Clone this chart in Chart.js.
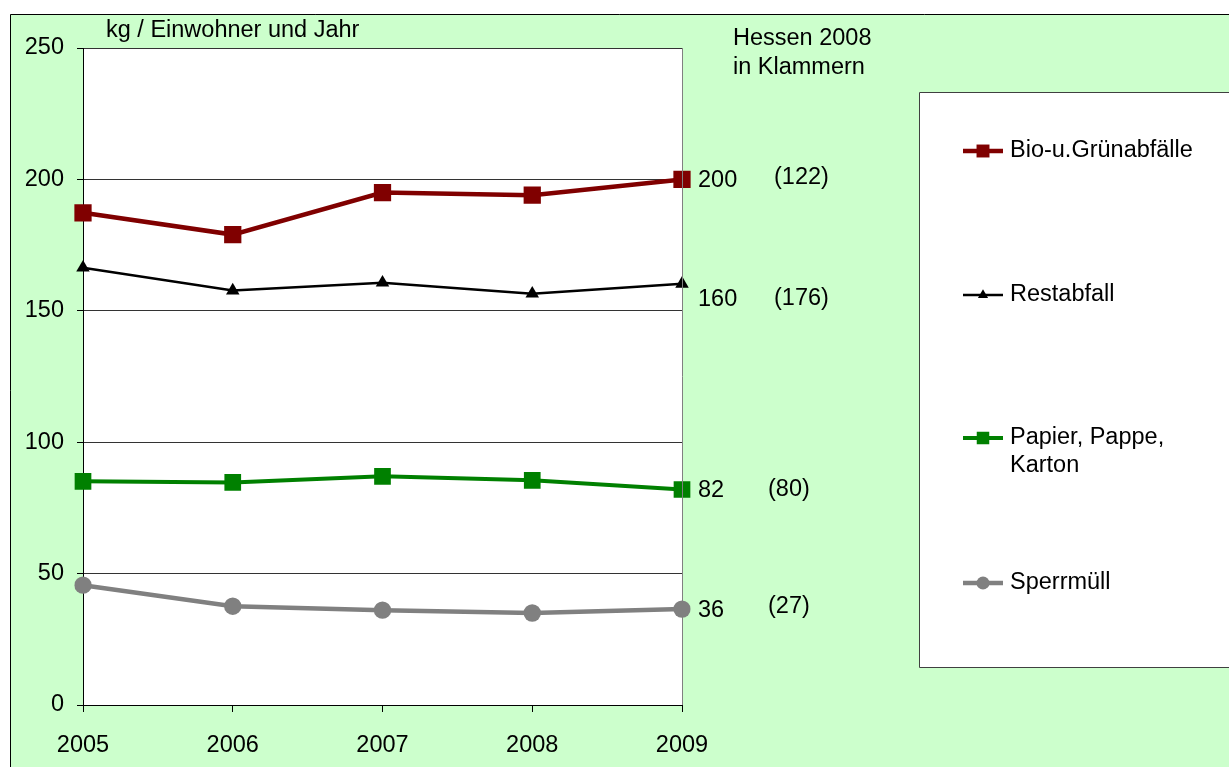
<!DOCTYPE html>
<html>
<head>
<meta charset="utf-8">
<script src="https://cdn.jsdelivr.net/npm/chart.js@4.4.1/dist/chart.umd.min.js"></script>
<style>
html,body{margin:0;padding:0;background:#fff;}
#wrap{width:1229px;height:767px;position:relative;}
</style>
</head>
<body>
<div id="wrap"><canvas id="c"></canvas></div>
<script>
const years = ['2005','2006','2007','2008','2009'];
const bio = [187.3, 179, 195, 194, 200];
const rest = [166.4, 157.7, 160.7, 156.5, 160.3];
const papier = [85.1, 84.7, 87, 85.5, 82];
const sperr = [45.6, 37.6, 36.1, 35, 36.5];
const seriesNames = ['Bio-u.Grünabfälle', 'Restabfall', ['Papier, Pappe,', 'Karton'], 'Sperrmüll'];
const endLabels = ['200', '160', '82', '36'];
const hessenLabels = ['(122)', '(176)', '(80)', '(27)'];
const yTicks = [0, 50, 100, 150, 200, 250];
const unitLabel = 'kg / Einwohner und Jahr';
const hessenNote = ['Hessen 2008', 'in Klammern'];

const FONT = '"Liberation Sans", Arial, sans-serif';
const FS = 23.5;

function marker(ctx, style, r, x, y, color) {
  ctx.save();
  ctx.fillStyle = color;
  ctx.beginPath();
  if (style === 'rect') {
    const s = r * Math.SQRT1_2;
    ctx.rect(x - s, y - s, 2 * s, 2 * s);
  } else if (style === 'triangle') {
    let a = 0;
    ctx.moveTo(x + Math.sin(a) * r, y - Math.cos(a) * r);
    a += 2 * Math.PI / 3;
    ctx.lineTo(x + Math.sin(a) * r, y - Math.cos(a) * r);
    a += 2 * Math.PI / 3;
    ctx.lineTo(x + Math.sin(a) * r, y - Math.cos(a) * r);
    ctx.closePath();
  } else {
    ctx.arc(x, y, r, 0, Math.PI * 2);
  }
  ctx.fill();
  ctx.restore();
}

const decor = {
  id: 'decor',
  beforeDraw(chart) {
    const ctx = chart.ctx;
    const a = chart.chartArea;
    ctx.save();
    ctx.fillStyle = '#ffffff';
    ctx.fillRect(0, 0, chart.width, chart.height);
    ctx.fillStyle = '#CCFFCC';
    ctx.fillRect(10, 14, chart.width, chart.height);
    ctx.strokeStyle = '#000';
    ctx.lineWidth = 1;
    ctx.beginPath();
    ctx.moveTo(10.5, chart.height);
    ctx.lineTo(10.5, 14.5);
    ctx.lineTo(chart.width, 14.5);
    ctx.stroke();
    ctx.fillStyle = '#ffffff';
    ctx.fillRect(a.left, a.top, a.right - a.left, a.bottom - a.top);
    ctx.restore();
  },
  afterDraw(chart) {
    const ctx = chart.ctx;
    const a = chart.chartArea;
    ctx.save();
    ctx.strokeStyle = '#808080';
    ctx.lineWidth = 1;
    ctx.beginPath();
    ctx.moveTo(a.right + 0.5, a.top);
    ctx.lineTo(a.right + 0.5, a.bottom);
    ctx.stroke();

    ctx.fillStyle = '#000';
    ctx.font = FS + 'px ' + FONT;
    ctx.textBaseline = 'middle';
    ctx.textAlign = 'left';
    ctx.fillText(unitLabel, 106, 31);
    ctx.fillText(hessenNote[0], 733, 39);
    ctx.fillText(hessenNote[1], 733, 68);

    const ys = chart.scales.y;
    const endOffsets = [0, 15, 0, 0];
    const hesOffsets = [-2, 0, 0, -3];
    chart.data.datasets.forEach((ds, i) => {
      const yv = ys.getPixelForValue(ds.data[ds.data.length - 1]) + endOffsets[i];
      ctx.fillText(endLabels[i], 698, yv + 1);
      ctx.fillText(hessenLabels[i], i === 2 || i === 3 ? 768 : 774, yv + hesOffsets[i]);
    });

    ctx.fillStyle = '#fff';
    ctx.fillRect(919, 92, 400, 575);
    ctx.strokeStyle = '#404040';
    ctx.lineWidth = 1;
    ctx.beginPath();
    ctx.moveTo(chart.width, 92.5);
    ctx.lineTo(919.5, 92.5);
    ctx.lineTo(919.5, 667.5);
    ctx.lineTo(chart.width, 667.5);
    ctx.stroke();
    const ly = [151, 295, 438, 583];
    chart.data.datasets.forEach((ds, i) => {
      const y = ly[i];
      ctx.strokeStyle = ds.borderColor;
      ctx.lineWidth = ds.borderWidth;
      ctx.beginPath();
      ctx.moveTo(963, y);
      ctx.lineTo(1003, y);
      ctx.stroke();
      marker(ctx, ds.pointStyle, ds.pointRadius * 0.75, 983, y, ds.pointBackgroundColor);
      ctx.fillStyle = '#000';
      const lines = Array.isArray(seriesNames[i]) ? seriesNames[i] : [seriesNames[i]];
      lines.forEach((t, k) => ctx.fillText(t, 1010, y + k * 28));
    });
    ctx.restore();
  }
};

new Chart(document.getElementById('c'), {
  type: 'line',
  data: {
    labels: years,
    datasets: [
      { label: 'Bio-u.Grünabfälle', data: bio, borderColor: '#800000', backgroundColor: '#800000',
        pointBackgroundColor: '#800000', pointBorderColor: '#800000', borderWidth: 4.5,
        pointStyle: 'rect', pointRadius: 12.2, pointBorderWidth: 0 },
      { label: 'Restabfall', data: rest, borderColor: '#000000', backgroundColor: '#000000',
        pointBackgroundColor: '#000000', pointBorderColor: '#000000', borderWidth: 2.5,
        pointStyle: 'triangle', pointRadius: 7.8, pointBorderWidth: 0 },
      { label: 'Papier, Pappe, Karton', data: papier, borderColor: '#008000', backgroundColor: '#008000',
        pointBackgroundColor: '#008000', pointBorderColor: '#008000', borderWidth: 4,
        pointStyle: 'rect', pointRadius: 11.8, pointBorderWidth: 0 },
      { label: 'Sperrmüll', data: sperr, borderColor: '#808080', backgroundColor: '#808080',
        pointBackgroundColor: '#808080', pointBorderColor: '#808080', borderWidth: 4.5,
        pointStyle: 'circle', pointRadius: 8.7, pointBorderWidth: 0 }
    ]
  },
  options: {
    responsive: true,
    maintainAspectRatio: false,
    animation: false,
    layout: { padding: { left: 0, top: 48, right: 547, bottom: 0 } },
    plugins: { legend: { display: false }, tooltip: { enabled: false } },
    scales: {
      x: {
        offset: false,
        afterFit(s) { s.height = 62; },
        grid: { drawOnChartArea: false, drawTicks: true, tickLength: 7, color: '#000', tickColor: '#000' },
        border: { color: '#000', width: 1 },
        ticks: { color: '#000', font: { family: FONT, size: FS }, padding: 19, maxRotation: 0 }
      },
      y: {
        min: 0, max: 250,
        afterFit(s) { s.width = 83; },
        afterBuildTicks(s) { s.ticks = yTicks.map(v => ({ value: v })); },
        grid: { color: '#333333', tickColor: '#000', tickLength: 6, lineWidth: 1 },
        border: { color: '#000', width: 1 },
        ticks: { color: '#000', font: { family: FONT, size: FS }, padding: 13 }
      }
    }
  },
  plugins: [decor]
});
</script>
</body>
</html>
